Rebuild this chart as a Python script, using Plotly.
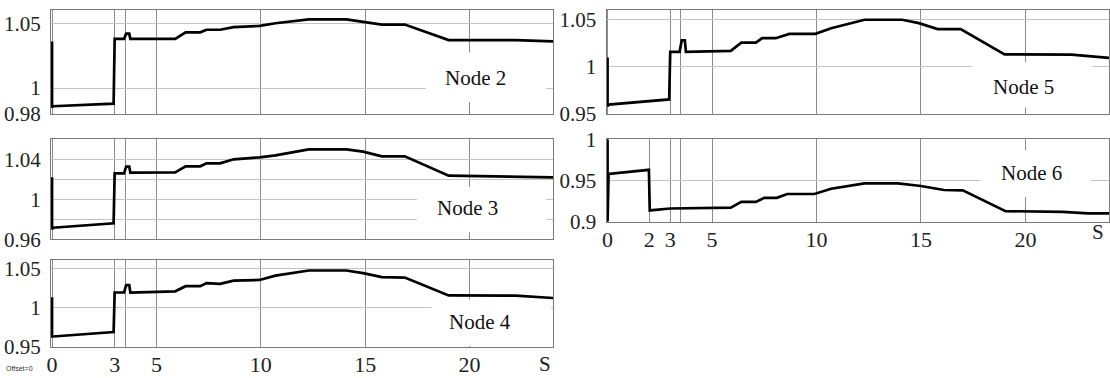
import plotly.graph_objects as go

# ---------------- data ----------------
time_a = [0, 0, 0.05, 2.95, 3.0, 3.45, 3.55, 3.7, 3.75, 5.9, 6.4, 7.1, 7.4, 8.05,
          8.7, 9.95, 10.7, 12.3, 14.1, 14.9, 15.8, 16.9, 19.0, 22.2, 24]
node2 = [1.036, 0.985, 0.986, 0.988, 1.038, 1.038, 1.042, 1.042, 1.038, 1.038, 1.043,
         1.043, 1.045, 1.045, 1.047, 1.048, 1.050, 1.053, 1.053, 1.051, 1.049, 1.049,
         1.037, 1.037, 1.036]
node3 = [1.022, 0.970, 0.9716, 0.976, 1.026, 1.026, 1.0326, 1.0326, 1.0266, 1.027,
         1.033, 1.033, 1.036, 1.036, 1.040, 1.042, 1.044, 1.050, 1.050, 1.0476, 1.043,
         1.043, 1.0236, 1.023, 1.022]
node4 = [1.013, 0.963, 0.963, 0.9687, 1.019, 1.019, 1.0285, 1.0285, 1.019, 1.0205,
         1.027, 1.027, 1.031, 1.030, 1.034, 1.035, 1.0405, 1.047, 1.047, 1.0437, 1.0387,
         1.038, 1.0153, 1.015, 1.012]
node5 = [1.010, 0.958, 0.960, 0.9655, 1.016, 1.016, 1.028, 1.028, 1.016, 1.017, 1.0257,
         1.0257, 1.0304, 1.0304, 1.035, 1.035, 1.041, 1.050, 1.050, 1.0464, 1.040, 1.040,
         1.0133, 1.013, 1.0096]
time_b = [0, 0, 0.05, 1.98, 2.02, 3.0, 5.9, 6.4, 7.1, 7.5, 8.1, 8.6, 9.9, 10.7, 12.3,
          13.9, 15.0, 16.1, 17.0, 19.05, 21.8, 23.0, 24]
node6 = [1.0, 0.9, 0.958, 0.963, 0.9137, 0.916, 0.917, 0.924, 0.924, 0.929, 0.929,
         0.9336, 0.9336, 0.940, 0.9466, 0.9466, 0.9433, 0.9385, 0.938, 0.9128, 0.912,
         0.910, 0.910]

x_ticks_a = [0, 3, 3.5, 5, 10, 15, 20]
x_text_a = ["0", "3", "", "5", "10", "15", "20"]
x_ticks_b = [0, 2, 3, 3.5, 5, 10, 15, 20]
x_text_b = ["0", "2", "3", "", "5", "10", "15", "20"]

panels = [
    dict(name="Node 2", t=time_a, v=node2, yr=[0.98, 1.06],
         yt=[0.98, 1, 1.05], ytt=["0.98", "1", "1.05"], xt=x_ticks_a, xtt=None,
         xd=[51/1110, 553/1110], yd=[1-114/378, 1-10.3/378],
         box=[17.9, 23.67, 0.9893, 1.0274], lab=[20.3, 1.008]),
    dict(name="Node 3", t=time_a, v=node3, yr=[0.96, 1.06],
         yt=[0.96, 0.98, 1, 1.02, 1.04], ytt=["0.96", "", "1", "", "1.04"],
         xt=x_ticks_a, xtt=None,
         xd=[51/1110, 553/1110], yd=[1-239.3/378, 1-139.3/378],
         box=[17.48, 23.67, 0.9673, 1.0123], lab=[19.92, 0.991]),
    dict(name="Node 4", t=time_a, v=node4, yr=[0.95, 1.06],
         yt=[0.95, 1, 1.05], ytt=["0.95", "1", "1.05"], xt=x_ticks_a, xtt=x_text_a,
         xd=[51/1110, 553/1110], yd=[1-346.7/378, 1-260.3/378],
         box=[18.19, 23.9, 0.951, 1.0098], lab=[20.5, 0.982]),
    dict(name="Node 5", t=time_a, v=node5, yr=[0.95, 1.06],
         yt=[0.95, 1, 1.05], ytt=["0.95", "1", "1.05"], xt=x_ticks_a, xtt=None,
         xd=[606.5/1110, 1109/1110], yd=[1-114/378, 1-10.3/378],
         box=[17.46, 23.2, 0.957, 1.005], lab=[19.89, 0.9786]),
    dict(name="Node 6", t=time_b, v=node6, yr=[0.9, 1.0],
         yt=[0.9, 0.95, 1], ytt=["0.9", "0.95", "1"], xt=x_ticks_b, xtt=x_text_b,
         xd=[606.5/1110, 1109/1110], yd=[1-221.7/378, 1-139.3/378],
         box=[17.84, 23.13, 0.930, 0.987], lab=[20.3, 0.9587]),
]

FONT = "Liberation Serif"
fig = go.Figure()
layout = dict(width=1110, height=378, margin=dict(l=0, r=0, t=0, b=0, autoexpand=False),
              paper_bgcolor="white", plot_bgcolor="white", showlegend=False,
              font=dict(family=FONT, size=21, color="#222"))
shapes, annotations = [], []

for i, p in enumerate(panels, start=1):
    xa = "x" if i == 1 else f"x{i}"
    ya = "y" if i == 1 else f"y{i}"
    fig.add_trace(go.Scatter(x=p["t"], y=p["v"], mode="lines", xaxis=xa, yaxis=ya,
                             line=dict(color="black", width=2.7), hoverinfo="skip"))
    xkey = "xaxis" if i == 1 else f"xaxis{i}"
    ykey = "yaxis" if i == 1 else f"yaxis{i}"
    show_x = p["xtt"] is not None
    layout[xkey] = dict(domain=p["xd"], anchor=ya, range=[-0.05, 24],
                        automargin=False,
                        tickmode="array", tickvals=p["xt"],
                        ticktext=p["xtt"] if show_x else [""] * len(p["xt"]),
                        showticklabels=show_x, showgrid=True, gridcolor="#8c8c8c",
                        gridwidth=1, zeroline=False, showline=True, mirror=True,
                        linecolor="#7a7a7a", linewidth=1, ticks="",
                        ticklabelstandoff=-2,
                        tickfont=dict(family=FONT, size=22, color="#222"))
    layout[ykey] = dict(domain=p["yd"], anchor=xa, range=p["yr"],
                        automargin=False,
                        tickmode="array", tickvals=p["yt"], ticktext=p["ytt"],
                        showgrid=True, gridcolor="#c4c4c4", gridwidth=1,
                        zeroline=False, showline=True, mirror=True,
                        linecolor="#7a7a7a", linewidth=1, ticks="",
                        ticklabelstandoff=5,
                        tickfont=dict(family=FONT, size=21, color="#222"))
    b = p["box"]
    shapes.append(dict(type="rect", xref=xa, yref=ya, x0=b[0], x1=b[1], y0=b[2], y1=b[3],
                       fillcolor="white", line=dict(width=0), layer="between"))
    annotations.append(dict(text=p["name"], xref=xa, yref=ya, x=p["lab"][0],
                            y=p["lab"][1], showarrow=False,
                            font=dict(family=FONT, size=21, color="#111")))

# "S" unit labels under bottom axes
annotations.append(dict(text="S", xref="x3", yref="y3 domain", x=23.6, y=-0.2,
                        yanchor="middle", showarrow=False,
                        font=dict(family=FONT, size=21, color="#222")))
annotations.append(dict(text="S", xref="x5", yref="y5 domain", x=23.45, y=-0.12,
                        yanchor="middle", showarrow=False,
                        font=dict(family=FONT, size=21, color="#222")))
annotations.append(dict(text="Offset=0", xref="paper", yref="paper", x=0.004, y=0.01,
                        xanchor="left", yanchor="bottom", showarrow=False,
                        font=dict(family="Liberation Sans", size=7, color="#333")))

layout["shapes"] = shapes
layout["annotations"] = annotations
fig.update_layout(**layout)
fig.write_html("out.html", config={"displayModeBar": False, "staticPlot": True},
               post_script="document.body.style.margin='0';document.body.style.padding='0';document.body.style.overflow='hidden';")
